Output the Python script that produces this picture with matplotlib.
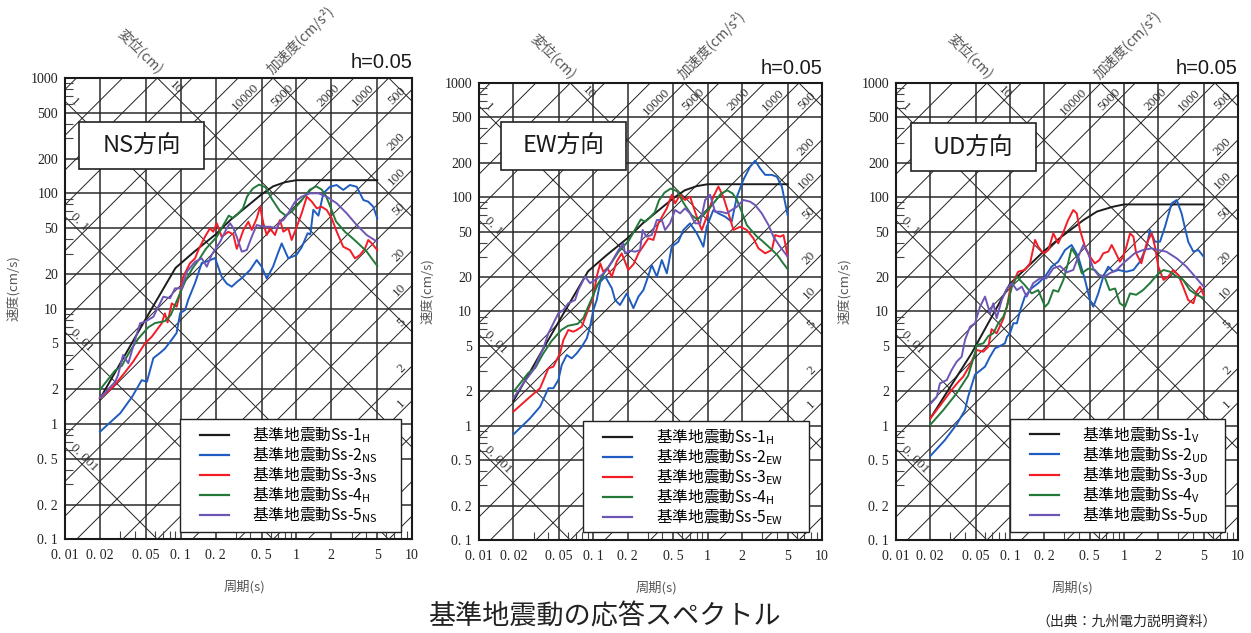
import numpy as np
import matplotlib
matplotlib.use('Agg')
import matplotlib.pyplot as plt
from matplotlib.patches import Rectangle
from matplotlib.ticker import FixedLocator, LogLocator, NullFormatter

plt.rcParams['font.family'] = ['Noto Sans CJK JP', 'DejaVu Sans']
plt.rcParams['mathtext.fontset'] = 'dejavusans'

SERIF = 'Liberation Serif'

# response spectra: (period [s], velocity [cm/s])
ss1_h = [(0.02, 1.65), (0.05, 8.2), (0.09, 22.5), (0.13, 31), (0.2, 44), (0.27, 59),
         (0.35, 73), (0.5, 98), (0.63, 115), (0.8, 125), (1.0, 130), (5.0, 130)]
ss4_h = [(0.02, 1.98), (0.027, 2.9), (0.031, 3.2), (0.036, 4.2), (0.043, 5.5), (0.0525, 6.9),
         (0.06, 7.5), (0.073, 7.8), (0.082, 8.8), (0.09, 11), (0.1, 14), (0.11, 17.5),
         (0.127, 22.5), (0.145, 27), (0.165, 33), (0.183, 37), (0.205, 42), (0.226, 50),
         (0.26, 64), (0.283, 61), (0.31, 66), (0.345, 74), (0.375, 94), (0.42, 110),
         (0.475, 119), (0.54, 113), (0.615, 89), (0.72, 70), (0.81, 64), (0.92, 70),
         (1.1, 86), (1.3, 107), (1.48, 115), (1.65, 108), (1.8, 95), (1.97, 76), (2.2, 57),
         (2.65, 46), (3.0, 41.5), (3.4, 37), (4.03, 31.5), (4.5, 27), (5.0, 23.5)]
ns_ss2 = [(0.02, 0.855), (0.03, 1.24), (0.038, 1.72), (0.046, 2.4), (0.051, 2.32), (0.058, 3.73),
          (0.066, 4.12), (0.073, 4.5), (0.081, 5.16), (0.092, 6.14), (0.099, 9.16), (0.109, 9.72),
          (0.116, 11.9), (0.133, 16.7), (0.152, 24.9), (0.175, 26), (0.198, 27.5), (0.226, 18.9),
          (0.25, 16.5), (0.276, 15.5), (0.305, 17), (0.337, 18.4), (0.397, 21.6), (0.454, 26.4),
          (0.501, 23.1), (0.554, 18.3), (0.628, 23.1), (0.69, 30), (0.746, 36.8), (0.851, 27.3),
          (1.0, 29.2), (1.11, 34), (1.25, 45), (1.32, 44), (1.4, 72), (1.55, 64), (1.71, 100),
          (1.95, 114), (2.23, 118), (2.54, 107), (2.9, 118), (3.32, 114), (3.79, 87.5),
          (4.18, 84.6), (4.62, 76.5), (5.0, 60.7)]
ns_ss3 = [(0.02, 1.68), (0.026, 2.1), (0.032, 2.7), (0.0387, 3.46), (0.0491, 5.0), (0.0561, 5.7),
          (0.0685, 7.46), (0.073, 9.1), (0.077, 7.6), (0.0836, 11.1), (0.0923, 10.4), (0.0986, 13.6),
          (0.105, 18.9), (0.12, 24.7), (0.133, 27.3), (0.142, 32.2), (0.162, 42), (0.179, 49.7),
          (0.191, 46.4), (0.205, 55), (0.226, 42), (0.258, 46.4), (0.285, 44), (0.305, 33),
          (0.348, 48), (0.384, 56.7), (0.411, 48.1), (0.454, 60.7), (0.485, 76.5), (0.518, 55),
          (0.554, 43.5), (0.591, 49.7), (0.653, 43.5), (0.721, 58.6), (0.771, 46.5), (0.851, 49.7),
          (0.91, 39.4), (1.007, 51.3), (1.11, 67.1), (1.23, 93.5), (1.36, 84.6), (1.5, 74.1),
          (1.65, 76.5), (1.83, 71.6), (2.02, 60.7), (2.23, 46.5), (2.54, 34.4), (2.9, 32.2),
          (3.21, 27.3), (3.55, 29.2), (3.92, 33.3), (4.18, 39.4), (4.48, 36.8), (5.0, 32.2)]
ns_ss5 = [(0.02, 1.68), (0.0271, 2.32), (0.0287, 2.65), (0.0317, 3.96), (0.0352, 3.36),
          (0.0403, 5.34), (0.0445, 7.46), (0.0491, 7.7), (0.058, 8.5), (0.064, 10.4),
          (0.0708, 12.7), (0.0809, 12.3), (0.0893, 15), (0.102, 15), (0.113, 20.9), (0.133, 25.5),
          (0.152, 27.3), (0.168, 23.1), (0.185, 29.2), (0.219, 38), (0.25, 49.7), (0.267, 55),
          (0.285, 50), (0.305, 42), (0.337, 31.2), (0.372, 32.2), (0.411, 42), (0.454, 53.1),
          (0.518, 51.3), (0.591, 51.3), (0.676, 49.7), (0.721, 56.7), (0.771, 58.6), (0.851, 67.1),
          (0.973, 84.6), (1.11, 93.5), (1.31, 100), (1.55, 100), (1.83, 93.5), (2.23, 81.9),
          (2.72, 67.1), (3.32, 53.1), (4.05, 43.5), (5.0, 38)]
ew_ss2 = [(0.02, 0.84), (0.0279, 1.16), (0.0342, 1.47), (0.0404, 2.13), (0.0447, 2.13),
          (0.0494, 2.51), (0.0529, 3.4), (0.0585, 4.16), (0.0647, 3.89), (0.0716, 4.31),
          (0.0792, 4.92), (0.0876, 5.82), (0.0936, 7.36), (0.1, 10.3), (0.107, 12.6), (0.115, 18.2),
          (0.127, 20.2), (0.145, 16), (0.155, 12.6), (0.171, 11.4), (0.196, 14.4), (0.224, 10.7),
          (0.248, 13.5), (0.274, 15.4), (0.3, 20), (0.324, 25.5), (0.359, 20.2), (0.397, 28.2),
          (0.439, 21.6), (0.485, 36.9), (0.554, 40.8), (0.613, 51.7), (0.701, 59.1), (0.803, 48.3),
          (0.859, 42.3), (0.917, 36.9), (0.98, 55), (1.12, 77.3), (1.25, 72), (1.42, 67.6),
          (1.62, 61.1), (1.8, 101), (2.05, 142), (2.35, 185), (2.6, 209), (2.87, 179), (3.18, 157),
          (3.64, 157), (4.03, 151), (4.45, 124), (5.0, 70)]
ew_ss3 = [(0.02, 1.33), (0.0279, 1.79), (0.0342, 2.13), (0.0404, 3.18), (0.0447, 3.29),
          (0.0511, 4.31), (0.0547, 5.63), (0.0604, 6.89), (0.0668, 6.66), (0.0716, 6.89),
          (0.0792, 7.36), (0.0876, 9.64), (0.1, 13.5), (0.107, 20.2), (0.115, 26.4), (0.122, 22.3),
          (0.133, 24), (0.145, 20.2), (0.16, 27.3), (0.177, 32.3), (0.202, 23.1), (0.225, 26),
          (0.248, 32.3), (0.265, 35.7), (0.303, 43.7), (0.335, 42.3), (0.37, 59.1), (0.439, 80),
          (0.485, 105), (0.519, 88.5), (0.574, 105), (0.634, 94.6), (0.701, 101), (0.75, 82.6),
          (0.83, 61.1), (0.888, 51.7), (0.982, 67.6), (1.12, 101), (1.24, 124), (1.37, 101),
          (1.52, 72.3), (1.68, 51.7), (1.92, 55.2), (2.2, 51.7), (2.51, 43.7), (2.78, 35.7),
          (3.18, 32.3), (3.64, 34.5), (3.89, 46.7), (4.3, 45.2), (4.6, 46.7), (4.8, 38), (5.0, 30.2)]
ew_ss5 = [(0.02, 1.74), (0.0244, 2.35), (0.0299, 3.08), (0.0365, 4.76), (0.0404, 6.44),
          (0.0494, 9.64), (0.0547, 10.3), (0.0604, 11.8), (0.0692, 12.6), (0.0739, 15.4),
          (0.0846, 20.2), (0.0936, 17.7), (0.104, 18.9), (0.118, 20.8), (0.131, 23.1), (0.145, 27.3),
          (0.166, 34.5), (0.183, 39.5), (0.189, 32.3), (0.21, 34), (0.232, 33.4), (0.256, 34.5),
          (0.27, 51.7), (0.29, 45.2), (0.324, 46.7), (0.359, 63.2), (0.397, 63.2), (0.424, 51.7),
          (0.468, 59), (0.519, 77.3), (0.574, 72.3), (0.634, 80), (0.7, 72.3), (0.778, 59.1),
          (0.859, 59.1), (0.95, 94.6), (1.05, 105), (1.16, 74.8), (1.29, 74.8), (1.47, 72.3),
          (1.62, 77.3), (1.8, 82.6), (2.05, 94.6), (2.35, 91.4), (2.6, 85.5), (2.97, 72.3),
          (3.4, 57.2), (3.76, 45.2), (4.3, 36.9), (5.0, 30.2)]
ss1_v = [(0.02, 1.16), (0.046, 4.3), (0.1, 17.5), (0.2, 34), (0.29, 46), (0.44, 63), (0.58, 75),
         (0.8, 82.6), (1.0, 86.5), (5.0, 86.5)]
ud_ss2 = [(0.02, 0.543), (0.0269, 0.75), (0.0341, 1.03), (0.0403, 1.37), (0.043, 1.8),
          (0.0493, 2.8), (0.0604, 3.29), (0.0668, 4.02), (0.0739, 4.76), (0.079, 4.9),
          (0.0904, 5.27), (0.094, 6.0), (0.1, 6.44), (0.107, 7.9), (0.115, 7.88), (0.122, 9.96),
          (0.135, 13.5), (0.155, 16), (0.177, 17.7), (0.203, 20.2), (0.232, 24.7), (0.265, 27.3),
          (0.304, 34.5), (0.347, 38.2), (0.397, 30.2), (0.455, 18.9), (0.503, 12.6), (0.538, 11),
          (0.595, 14.4), (0.658, 20.2), (0.728, 24.7), (0.806, 22.3), (0.89, 23.1), (1.05, 22.3),
          (1.21, 23.1), (1.38, 27.3), (1.58, 36.9), (1.69, 51.7), (1.87, 40.8), (2.07, 40.8),
          (2.29, 55.2), (2.62, 88.5), (2.9, 94.6), (3.2, 72.3), (3.66, 40.8), (4.06, 33.4),
          (4.49, 34.5), (5.0, 30.2)]
ud_ss3 = [(0.02, 1.16), (0.0252, 1.57), (0.0308, 2.06), (0.035, 2.4), (0.0389, 2.69),
          (0.0446, 3.4), (0.051, 4.6), (0.0584, 4.45), (0.0646, 4.92), (0.069, 7.0), (0.0764, 6.44),
          (0.0874, 8.6), (0.094, 11), (0.1, 15.4), (0.107, 18.2), (0.118, 22.3), (0.135, 23.1),
          (0.15, 26.4), (0.166, 42.3), (0.177, 36.9), (0.196, 32.3), (0.217, 34.5), (0.24, 48.3),
          (0.265, 39.5), (0.295, 50), (0.323, 63), (0.359, 77.3), (0.385, 72.3), (0.411, 51.7),
          (0.455, 36.9), (0.503, 30.2), (0.555, 26.4), (0.61, 28.2), (0.658, 32.3), (0.728, 33.4),
          (0.78, 38.2), (0.836, 33.4), (0.92, 27.3), (0.98, 30.2), (1.05, 36.9), (1.13, 48.3),
          (1.21, 45.2), (1.28, 32.3), (1.42, 26.4), (1.58, 39.5), (1.75, 48.3), (1.87, 36.9),
          (2.0, 24.7), (2.22, 18.9), (2.45, 20.2), (2.7, 23.1), (3.0, 20.8), (3.3, 16.5),
          (3.66, 12.6), (4.06, 11.8), (4.34, 14.9), (4.65, 16.5), (5.0, 13.9)]
ss4_v = [(0.02, 1.02), (0.026, 1.37), (0.034, 1.92), (0.043, 2.75), (0.0493, 4.31), (0.051, 5.09),
         (0.0584, 5.27), (0.0646, 6.1), (0.0714, 6.44), (0.0789, 7.88), (0.0874, 9.0), (0.094, 11),
         (0.104, 16.5), (0.115, 20.2), (0.122, 18.9), (0.135, 17), (0.155, 14.4), (0.177, 15.4),
         (0.203, 11), (0.217, 11.8), (0.24, 15.4), (0.265, 14.9), (0.294, 18.9), (0.323, 26.4),
         (0.347, 35.7), (0.385, 30.2), (0.426, 21.6), (0.485, 23.7), (0.555, 23.1), (0.61, 20.8),
         (0.675, 20.2), (0.748, 15.4), (0.836, 15.9), (0.92, 11.8), (1.02, 11), (1.13, 14.4),
         (1.28, 14), (1.47, 15.4), (1.69, 17.7), (1.94, 20.8), (2.22, 23.1), (2.53, 22.3),
         (2.9, 20.2), (3.3, 18.9), (3.78, 15.4), (4.34, 14), (5.0, 13.1)]
ud_ss5 = [(0.02, 1.55), (0.0228, 1.79), (0.0243, 2.35), (0.0279, 2.51), (0.0308, 3.08),
          (0.0341, 3.64), (0.0377, 4.02), (0.0403, 5.63), (0.0446, 7.36), (0.0493, 7.88),
          (0.0546, 11), (0.0604, 13.5), (0.0668, 9.64), (0.0714, 11.8), (0.0764, 8.73),
          (0.0846, 12.6), (0.094, 15.9), (0.104, 17.7), (0.115, 15.4), (0.127, 16.5), (0.14, 13.5),
          (0.16, 17.7), (0.183, 19.5), (0.209, 19.5), (0.24, 23.9), (0.275, 25), (0.314, 22),
          (0.359, 23.1), (0.397, 30.2), (0.44, 38.2), (0.485, 32.3), (0.538, 23.7), (0.595, 20.8),
          (0.675, 20.2), (0.748, 21.6), (0.86, 23.1), (1.02, 27.3), (1.24, 32.3), (1.47, 34.5),
          (1.75, 35.7), (2.0, 34.5), (2.35, 33.4), (2.9, 29.2), (3.53, 24.7), (4.2, 20.2),
          (5.0, 16.5)]

period_ticks = [0.01, 0.02, 0.05, 0.1, 0.2, 0.5, 1, 2, 5, 10]
period_labels = ['0. 01', '0. 02', '0. 05', '0. 1', '0. 2', '0. 5', '1', '2', '5', '10']
velocity_ticks = [0.1, 0.2, 0.5, 1, 2, 5, 10, 20, 50, 100, 200, 500, 1000]
velocity_labels = ['0. 1', '0. 2', '0. 5', '1', '2', '5', '10', '20', '50', '100', '200',
                   '500', '1000']
disp_values = [0.0001, 0.001, 0.01, 0.1, 1, 10, 100, 1000]
disp_side_labels = [(1, '1'), (0.1, '0. 1'), (0.01, '0. 01'), (0.001, '0. 001')]
acc_values = [0.05, 0.1, 0.2, 0.5, 1, 2, 5, 10, 20, 50, 100, 200, 500, 1000, 2000, 5000,
              10000, 20000, 50000, 100000, 200000, 500000, 1000000]
acc_top_labels = [10000, 5000, 2000, 1000]
acc_side_labels = [500, 200, 100, 50, 20, 10, 5, 2, 1]

colors = ['#1c1c1c', '#1f5cbf', '#f21d27', '#23783a', '#6e56b6']

# name, axes rect, curves, subscripts, legend frame, title box
panels = [
    ('NS方向', [0.0520, 0.1480, 0.2774, 0.7288],
     [ss1_h, ns_ss2, ns_ss3, ss4_h, ns_ss5], ['H', 'NS', 'NS', 'H', 'NS'],
     (0.331, 0.015, 0.637, 0.245), (0.040, 0.803, 0.361, 0.102)),
    ('EW方向', [0.3829, 0.1469, 0.2742, 0.7220],
     [ss1_h, ew_ss2, ew_ss3, ss4_h, ew_ss5], ['H', 'EW', 'EW', 'H', 'EW'],
     (0.303, 0.0175, 0.659, 0.2425), (0.063, 0.810, 0.365, 0.105)),
    ('UD方向', [0.7162, 0.1469, 0.2734, 0.7220],
     [ss1_v, ud_ss2, ud_ss3, ss4_v, ud_ss5], ['V', 'UD', 'UD', 'V', 'UD'],
     (0.333, 0.0175, 0.629, 0.2475), (0.043, 0.807, 0.365, 0.105)),
]

FIG_W, FIG_H = 1251, 633
fig = plt.figure(figsize=(FIG_W / 100, FIG_H / 100), dpi=100)


def draw_panel(ax, name, curves, subs, leg_frame, name_box, rect):
    ax.set_xscale('log')
    ax.set_yscale('log')

    # tripartite diagonals
    t_line = np.array([0.001, 100.0])
    for a in acc_values:
        ax.plot(t_line, a * t_line / (2 * np.pi), color='#222222', lw=0.7, zorder=1)
    for d in disp_values:
        ax.plot(t_line, 2 * np.pi * d / t_line, color='#222222', lw=0.7, zorder=1)

    lab_kw = dict(fontfamily=SERIF, fontsize=9.5, color='#333333', rotation_mode='anchor',
                  zorder=2, va='bottom')
    for d, txt in disp_side_labels:
        t0 = 0.0106
        ax.text(t0, 2 * np.pi * d / t0, txt, rotation=-45, ha='left', **lab_kw)
    t0 = 2 * np.pi * 10 / 1000 * 1.2
    ax.text(t0, 2 * np.pi * 10 / t0, '10', rotation=-45, ha='left', **lab_kw)
    for a in acc_top_labels:
        v0 = 787
        ax.text(2 * np.pi * v0 / a, v0, str(a), rotation=45, ha='right', **lab_kw)
    for a in acc_side_labels:
        t0 = 9.2
        ax.text(t0, a * t0 / (2 * np.pi), str(a), rotation=45, ha='right', **lab_kw)

    for i, (pts, sub, c) in enumerate(zip(curves, subs, colors)):
        t = [p[0] for p in pts]
        v = [p[1] for p in pts]
        ax.plot(t, v, color=c, lw=1.4, zorder=3,
                label='基準地震動Ss-%d$_\\mathregular{%s}$' % (i + 1, sub))

    ax.set_xlim(0.01, 10)
    ax.set_ylim(0.1, 1000)

    ax.xaxis.set_major_locator(FixedLocator(period_ticks))
    ax.yaxis.set_major_locator(FixedLocator(velocity_ticks))
    ax.set_xticklabels(period_labels, fontfamily=SERIF, fontsize=10, color='#222222')
    ax.set_yticklabels(velocity_labels, fontfamily=SERIF, fontsize=10, color='#222222')
    ax.xaxis.set_minor_locator(LogLocator(base=10, subs=[3, 4, 6, 7, 8, 9], numticks=20))
    ax.yaxis.set_minor_locator(LogLocator(base=10, subs=[3, 4, 6, 7, 8, 9], numticks=20))
    ax.xaxis.set_minor_formatter(NullFormatter())
    ax.yaxis.set_minor_formatter(NullFormatter())
    ax.tick_params(which='major', length=0)
    ax.tick_params(axis='x', which='major', pad=7)
    ax.tick_params(axis='y', which='major', pad=5)
    ax.tick_params(which='minor', direction='in', length=6, width=0.8, color='#444444')
    ax.grid(True, which='major', color='#2a2a2a', lw=1.1, zorder=0)
    for s in ax.spines.values():
        s.set_linewidth(1.5)
        s.set_color('#1a1a1a')

    # direction box
    bx, by, bw, bh = name_box
    ax.add_patch(Rectangle((bx, by), bw, bh, transform=ax.transAxes, facecolor='white',
                           edgecolor='#222222', lw=1.2, zorder=4))
    ax.text(bx + bw / 2, by + bh / 2, name, transform=ax.transAxes, ha='center', va='center',
            fontsize=17, color='#1a1a1a', zorder=5)

    # legend
    fx, fy, fw, fh = leg_frame
    w_px, h_px = rect[2] * FIG_W, rect[3] * FIG_H
    ax.add_patch(Rectangle((fx, fy), fw, fh, transform=ax.transAxes, facecolor='white',
                           edgecolor='#222222', lw=1.0, zorder=4))
    leg = ax.legend(loc='upper left', bbox_to_anchor=(fx + 20 / w_px, fy + fh - 5 / h_px),
                    frameon=False, borderpad=0, borderaxespad=0, handlelength=1.85,
                    handletextpad=1.5, labelspacing=-0.04, fontsize=11.3)
    leg.set_zorder(6)
    for line in leg.get_lines():
        line.set_linewidth(1.6)

    ax.text(1.0, 1.012, 'h=0.05', transform=ax.transAxes, ha='right', va='bottom',
            fontsize=14.5, fontfamily='Liberation Sans', color='#1a1a1a')
    ax.text(0.217, 1.059, '変位(cm)', transform=ax.transAxes, rotation=-45, ha='center',
            va='center', fontsize=10, color='#555555')
    ax.text(0.678, 1.082, '加速度(cm/s²)', transform=ax.transAxes, rotation=45, ha='center',
            va='center', fontsize=10, color='#555555')
    ax.text(0.517, -0.104, '周期(s)', transform=ax.transAxes, ha='center', va='center',
            fontsize=9.5, color='#555555')
    ax.text(-0.15, 0.545, '速度(cm/s)', transform=ax.transAxes, rotation=90, ha='center',
            va='center', fontsize=9.5, color='#555555')


for name, rect, curves, subs, leg_frame, name_box in panels:
    ax = fig.add_axes(rect)
    draw_panel(ax, name, curves, subs, leg_frame, name_box, rect)

fig.text(0.4828, 0.0253, '基準地震動の応答スペクトル', ha='center', va='center', fontsize=19.5,
         color='#222222')
fig.text(0.9728, 0.0174, '（出典：九州電力説明資料）', ha='right', va='center', fontsize=10,
         color='#222222')

fig.savefig('out.png', dpi=100)
